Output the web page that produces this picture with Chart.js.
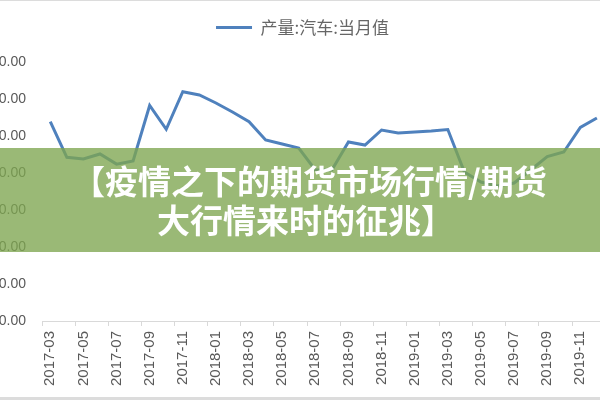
<!DOCTYPE html>
<html>
<head>
<meta charset="utf-8">
<script src="https://cdn.jsdelivr.net/npm/chart.js@4.4.1/dist/chart.umd.min.js"></script>
<style>
  html, body { margin: 0; padding: 0; width: 600px; height: 400px; overflow: hidden; background: #fff; }
  #chart { position: absolute; left: -30px; top: 0; }
  .edge { position: absolute; left: 0; width: 600px; background: #dcdcdc; }
  #banner { position: absolute; left: 0; top: 148px; width: 600px; height: 104px; background: rgba(125, 165, 80, 0.78); }
  .headline { position: absolute; white-space: nowrap; color: #fff; font: 700 33px "Noto Sans CJK SC", sans-serif; line-height: 40px; }
</style>
</head>
<body>
<canvas id="chart" width="650" height="400"></canvas>
<div class="edge" style="top:0;height:1px"></div>
<div class="edge" style="top:397px;height:3px"></div>
<div id="banner"></div>
<div class="headline" style="left:72px;top:160px">【疫情之下的期货市场行情/期货</div>
<div class="headline" style="left:157px;top:199px">大行情来时的征兆】</div>
<script>
// Categories (months)
const months = [
    '2017-03','2017-04','2017-05','2017-06','2017-07','2017-08','2017-09','2017-10','2017-11','2017-12',
    '2018-01','2018-02','2018-03','2018-04','2018-05','2018-06','2018-07','2018-08','2018-09','2018-10','2018-11','2018-12',
    '2019-01','2019-02','2019-03','2019-04','2019-05','2019-06','2019-07','2019-08','2019-09','2019-10','2019-11','2019-12'
];

// 产量:汽车:当月值
const output = [
    269.3, 221.2, 218.9, 225.7, 212.0, 216.2, 291.2, 259.1, 309.9, 305.4,
    294.6, 282.4, 269.3, 244.6, 239.2, 233.8, 204.1, 204.1, 241.9, 237.8, 258.1, 254.1,
    255.4, 256.8, 258.8, 201.4, 187.8, 182.4, 186.5, 204.1, 222.3, 228.4, 261.5, 274.3
];

// Y axis range
const yMin = 0;
const yMax = 350;
const yStep = 50;

const lineColor = '#4F81BD';
const textColor = '#595959';

// Push the plot area down below the legend
const legendSpacer = {
    id: 'legendSpacer',
    beforeInit(chart) {
        const origFit = chart.legend.fit;
        chart.legend.fit = function () {
            origFit.bind(chart.legend)();
            this.height += 16;
        };
    }
};

const ctx = document.getElementById('chart').getContext('2d');
new Chart(ctx, {
    type: 'line',
    data: {
        labels: months,
        datasets: [{
            label: '产量:汽车:当月值',
            data: output,
            borderColor: lineColor,
            backgroundColor: lineColor,
            borderWidth: 3,
            pointRadius: 0,
            tension: 0,
            fill: false
        }]
    },
    options: {
        responsive: false,
        animation: false,
        layout: { padding: { top: 9, left: 22, right: 7, bottom: 0 } },
        plugins: {
            tooltip: { enabled: false },
            legend: {
                position: 'top',
                labels: {
                    boxWidth: 36,
                    boxHeight: 3,
                    padding: 10,
                    color: '#666',
                    font: { family: '"Noto Sans CJK SC", sans-serif', size: 17 },
                    generateLabels: (chart) =>
                        Chart.defaults.plugins.legend.labels.generateLabels(chart)
                            .map(l => ({ ...l, lineWidth: 0, fillStyle: lineColor }))
                }
            }
        },
        scales: {
            x: {
                offset: true,
                grid: {
                    offset: true,
                    drawOnChartArea: false,
                    drawTicks: true,
                    tickLength: 5,
                    color: (c) => (c.index % 2 === 0 ? '#d9d9d9' : 'rgba(0,0,0,0)')
                },
                border: { display: true, color: '#d9d9d9', width: 1 },
                ticks: {
                    autoSkip: false,
                    minRotation: 90,
                    maxRotation: 90,
                    padding: 5,
                    color: textColor,
                    font: { family: '"Liberation Sans", Arial, sans-serif', size: 15 },
                    callback: (v, i) => (i % 2 === 0 ? months[i] : '')
                },
                afterFit: (s) => { s.height = 79; }
            },
            y: {
                min: yMin,
                max: yMax,
                grid: { display: false, drawTicks: false },
                border: { display: false },
                ticks: {
                    stepSize: yStep,
                    padding: 16,
                    color: textColor,
                    font: { family: '"Liberation Sans", Arial, sans-serif', size: 14 },
                    callback: (v) => v.toFixed(2)
                },
                afterFit: (s) => { s.width = 50; }
            }
        }
    },
    plugins: [legendSpacer]
});
</script>
</body>
</html>
